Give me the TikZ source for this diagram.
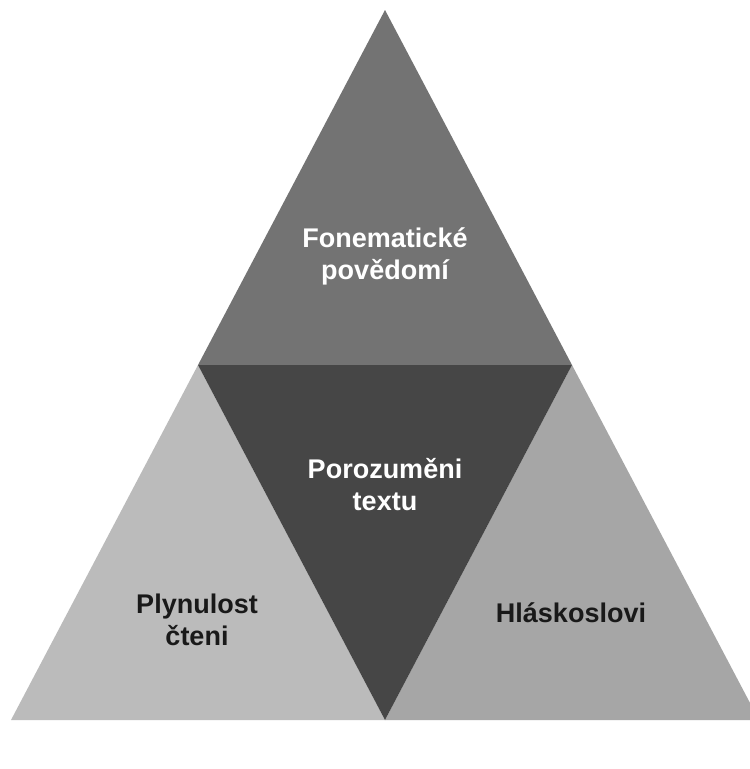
\documentclass[tikz,border=0pt]{standalone}
\usepackage{fontspec}
\setmainfont{Liberation Sans}
\begin{document}
\begin{tikzpicture}[x=1pt,y=-1pt,
  lbl/.style={font=\bfseries\fontsize{27}{32}\selectfont, align=center, inner sep=0pt},
  wlbl/.style={lbl, text=white},
  klbl/.style={lbl, text=black!90}]
\definecolor{topc}{HTML}{737373}
\definecolor{midc}{HTML}{464646}
\definecolor{leftc}{HTML}{BBBBBB}
\definecolor{rightc}{HTML}{A6A6A6}
\clip (0,0) rectangle (750,769);
\fill[white] (0,0) rectangle (750,769);
\coordinate (A) at (385,10);
\coordinate (L) at (11,720);
\coordinate (R) at (759,720);
\coordinate (ML) at (198,365);
\coordinate (MR) at (572,365);
\coordinate (MB) at (385,720);
\fill[topc] (A) -- (ML) -- (MR) -- cycle;
\fill[leftc] (ML) -- (L) -- (MB) -- cycle;
\fill[rightc] (MR) -- (MB) -- (R) -- cycle;
\fill[midc] (ML) -- (MR) -- (MB) -- cycle;
\node[wlbl] (t1) at (385,256) {Fonematické\\povědomí};
\node[wlbl] (t2) at (385,485) {Porozuměni\\textu};
\node[klbl] (t3) at (197,620) {Plynulost\\čteni};
\node[klbl] (t4) at (571,613) {Hláskoslovi};
\end{tikzpicture}
\end{document}
